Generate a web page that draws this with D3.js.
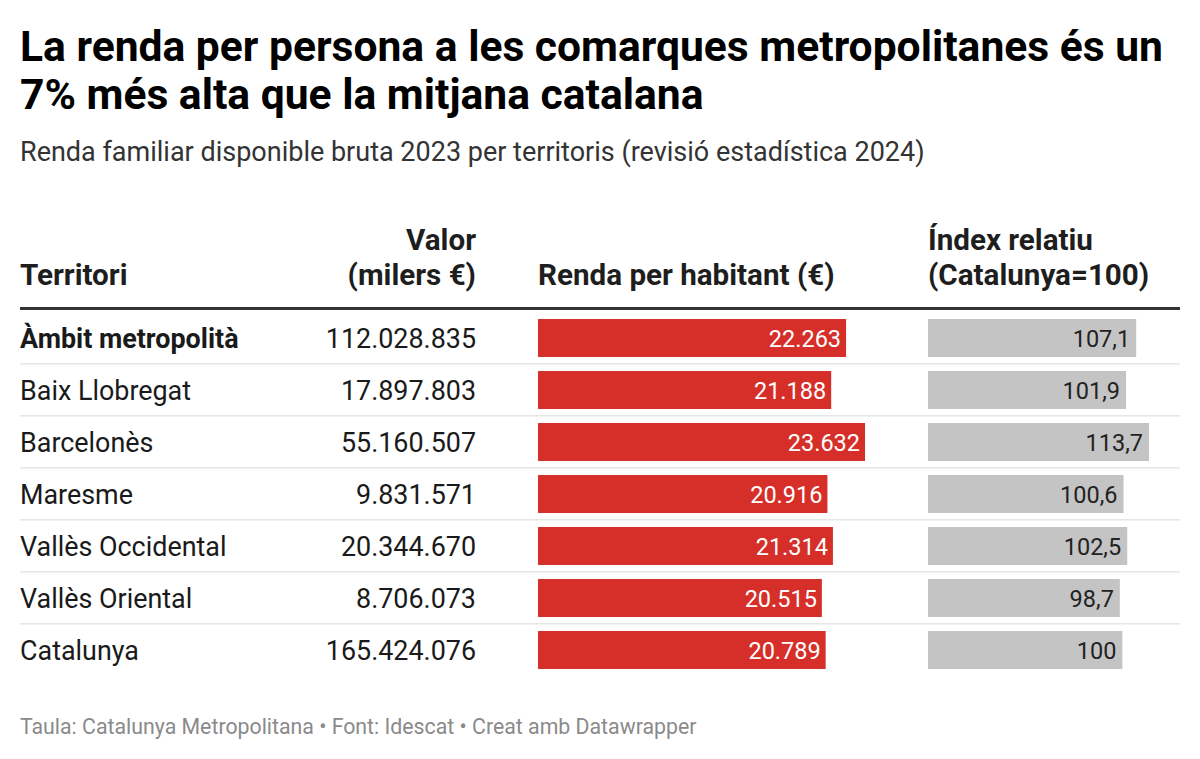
<!DOCTYPE html>
<html>
<head>
<meta charset="utf-8">
<script src="https://cdn.jsdelivr.net/npm/d3@7"></script>
<style>
  body { margin: 0; background: #fff; }
  svg text { font-family: Roboto, "Noto Sans", sans-serif; }
</style>
</head>
<body>
<div id="chart"></div>
<script>
var territoris = ["Àmbit metropolità", "Baix Llobregat", "Barcelonès", "Maresme", "Vallès Occidental", "Vallès Oriental", "Catalunya"];
var valors = [112028835, 17897803, 55160507, 9831571, 20344670, 8706073, 165424076];
var rendaHabitant = [22263, 21188, 23632, 20916, 21314, 20515, 20789];
var indexRelatiu = [107.1, 101.9, 113.7, 100.6, 102.5, 98.7, 100];

var width = 1200, height = 759;
var svg = d3.select("#chart").append("svg")
    .attr("width", width)
    .attr("height", height);

var cat = d3.formatLocale({decimal: ",", thousands: ".", grouping: [3], currency: ["", "€"]});
var fmtInt = cat.format(",d");
var fmtIdx = function(v) { return Number.isInteger(v) ? String(v) : cat.format(".1f")(v); };

var data = territoris.map(function(t, i) {
    return {territori: t, valor: valors[i], renda: rendaHabitant[i], index: indexRelatiu[i]};
});

// title
var title = svg.append("text")
    .attr("x", 20).attr("y", 61)
    .attr("font-size", 42.6).attr("font-weight", 700).attr("fill", "#000");
title.append("tspan").attr("x", 20).text("La renda per persona a les comarques metropolitanes és un");
title.append("tspan").attr("x", 20).attr("dy", 48).text("7% més alta que la mitjana catalana");

svg.append("text")
    .attr("x", 20).attr("y", 161)
    .attr("font-size", 27).attr("fill", "#333")
    .text("Renda familiar disponible bruta 2023 per territoris (revisió estadística 2024)");

// headers
var hdr = svg.append("g").attr("font-size", 29.6).attr("font-weight", 700).attr("fill", "#1e1e1e");
hdr.append("text").attr("x", 20).attr("y", 285).text("Territori");
hdr.append("text").attr("x", 476).attr("y", 250).attr("text-anchor", "end").text("Valor");
hdr.append("text").attr("x", 476).attr("y", 285).attr("text-anchor", "end").text("(milers €)");
hdr.append("text").attr("x", 538).attr("y", 285).text("Renda per habitant (€)");
hdr.append("text").attr("x", 928).attr("y", 250).text("Índex relatiu");
hdr.append("text").attr("x", 928).attr("y", 285).text("(Catalunya=100)");

svg.append("rect")
    .attr("x", 20).attr("y", 307).attr("width", 1160).attr("height", 3)
    .attr("fill", "#333");

var y = d3.scaleBand()
    .domain(territoris)
    .range([312, 312 + 52 * territoris.length])
    .paddingInner(0.27)
    .paddingOuter(0.135);

var step = y.step();

var xRenda = d3.scaleLinear()
    .domain([0, d3.max(rendaHabitant)])
    .range([0, 327]);

var xIndex = d3.scaleLinear()
    .domain([0, d3.max(indexRelatiu)])
    .range([0, 221]);

var rows = svg.selectAll("g.row")
    .data(data)
    .enter()
    .append("g")
    .attr("class", "row");

rows.filter(function(d, i) { return i < data.length - 1; })
    .append("rect")
    .attr("x", 20)
    .attr("y", function(d) { return y(d.territori) - y.paddingOuter() * step + step - 1; })
    .attr("width", 1160)
    .attr("height", 1.5)
    .attr("fill", "#e6e6e6");

rows.append("text")
    .attr("x", 20)
    .attr("y", function(d) { return y(d.territori) + y.bandwidth() / 2 + 9.5; })
    .attr("font-size", 26.9)
    .attr("font-weight", function(d, i) { return i === 0 ? 700 : 400; })
    .attr("fill", "#1a1a1a")
    .text(function(d) { return d.territori; });

rows.append("text")
    .attr("x", 476)
    .attr("y", function(d) { return y(d.territori) + y.bandwidth() / 2 + 9.5; })
    .attr("text-anchor", "end")
    .attr("font-size", 26.9)
    .attr("fill", "#1a1a1a")
    .text(function(d) { return fmtInt(d.valor); });

rows.append("rect")
    .attr("x", 538)
    .attr("y", function(d) { return y(d.territori); })
    .attr("width", function(d) { return xRenda(d.renda); })
    .attr("height", y.bandwidth())
    .attr("fill", "#d62f29");

rows.append("text")
    .attr("x", function(d) { return 538 + xRenda(d.renda) - 5; })
    .attr("y", function(d) { return y(d.territori) + y.bandwidth() / 2 + 8.5; })
    .attr("text-anchor", "end")
    .attr("font-size", 23.5)
    .attr("fill", "#fff")
    .text(function(d) { return fmtInt(d.renda); });

rows.append("rect")
    .attr("x", 928)
    .attr("y", function(d) { return y(d.territori); })
    .attr("width", function(d) { return xIndex(d.index); })
    .attr("height", y.bandwidth())
    .attr("fill", "#c4c4c4");

rows.append("text")
    .attr("x", function(d) { return 928 + xIndex(d.index) - 6; })
    .attr("y", function(d) { return y(d.territori) + y.bandwidth() / 2 + 8.5; })
    .attr("text-anchor", "end")
    .attr("font-size", 23.5)
    .attr("fill", "#222")
    .text(function(d) { return fmtIdx(d.index); });

svg.append("text")
    .attr("x", 20).attr("y", 734)
    .attr("font-size", 21.3).attr("fill", "#8a8a8a")
    .text("Taula: Catalunya Metropolitana • Font: Idescat • Creat amb Datawrapper");
</script>
</body>
</html>
